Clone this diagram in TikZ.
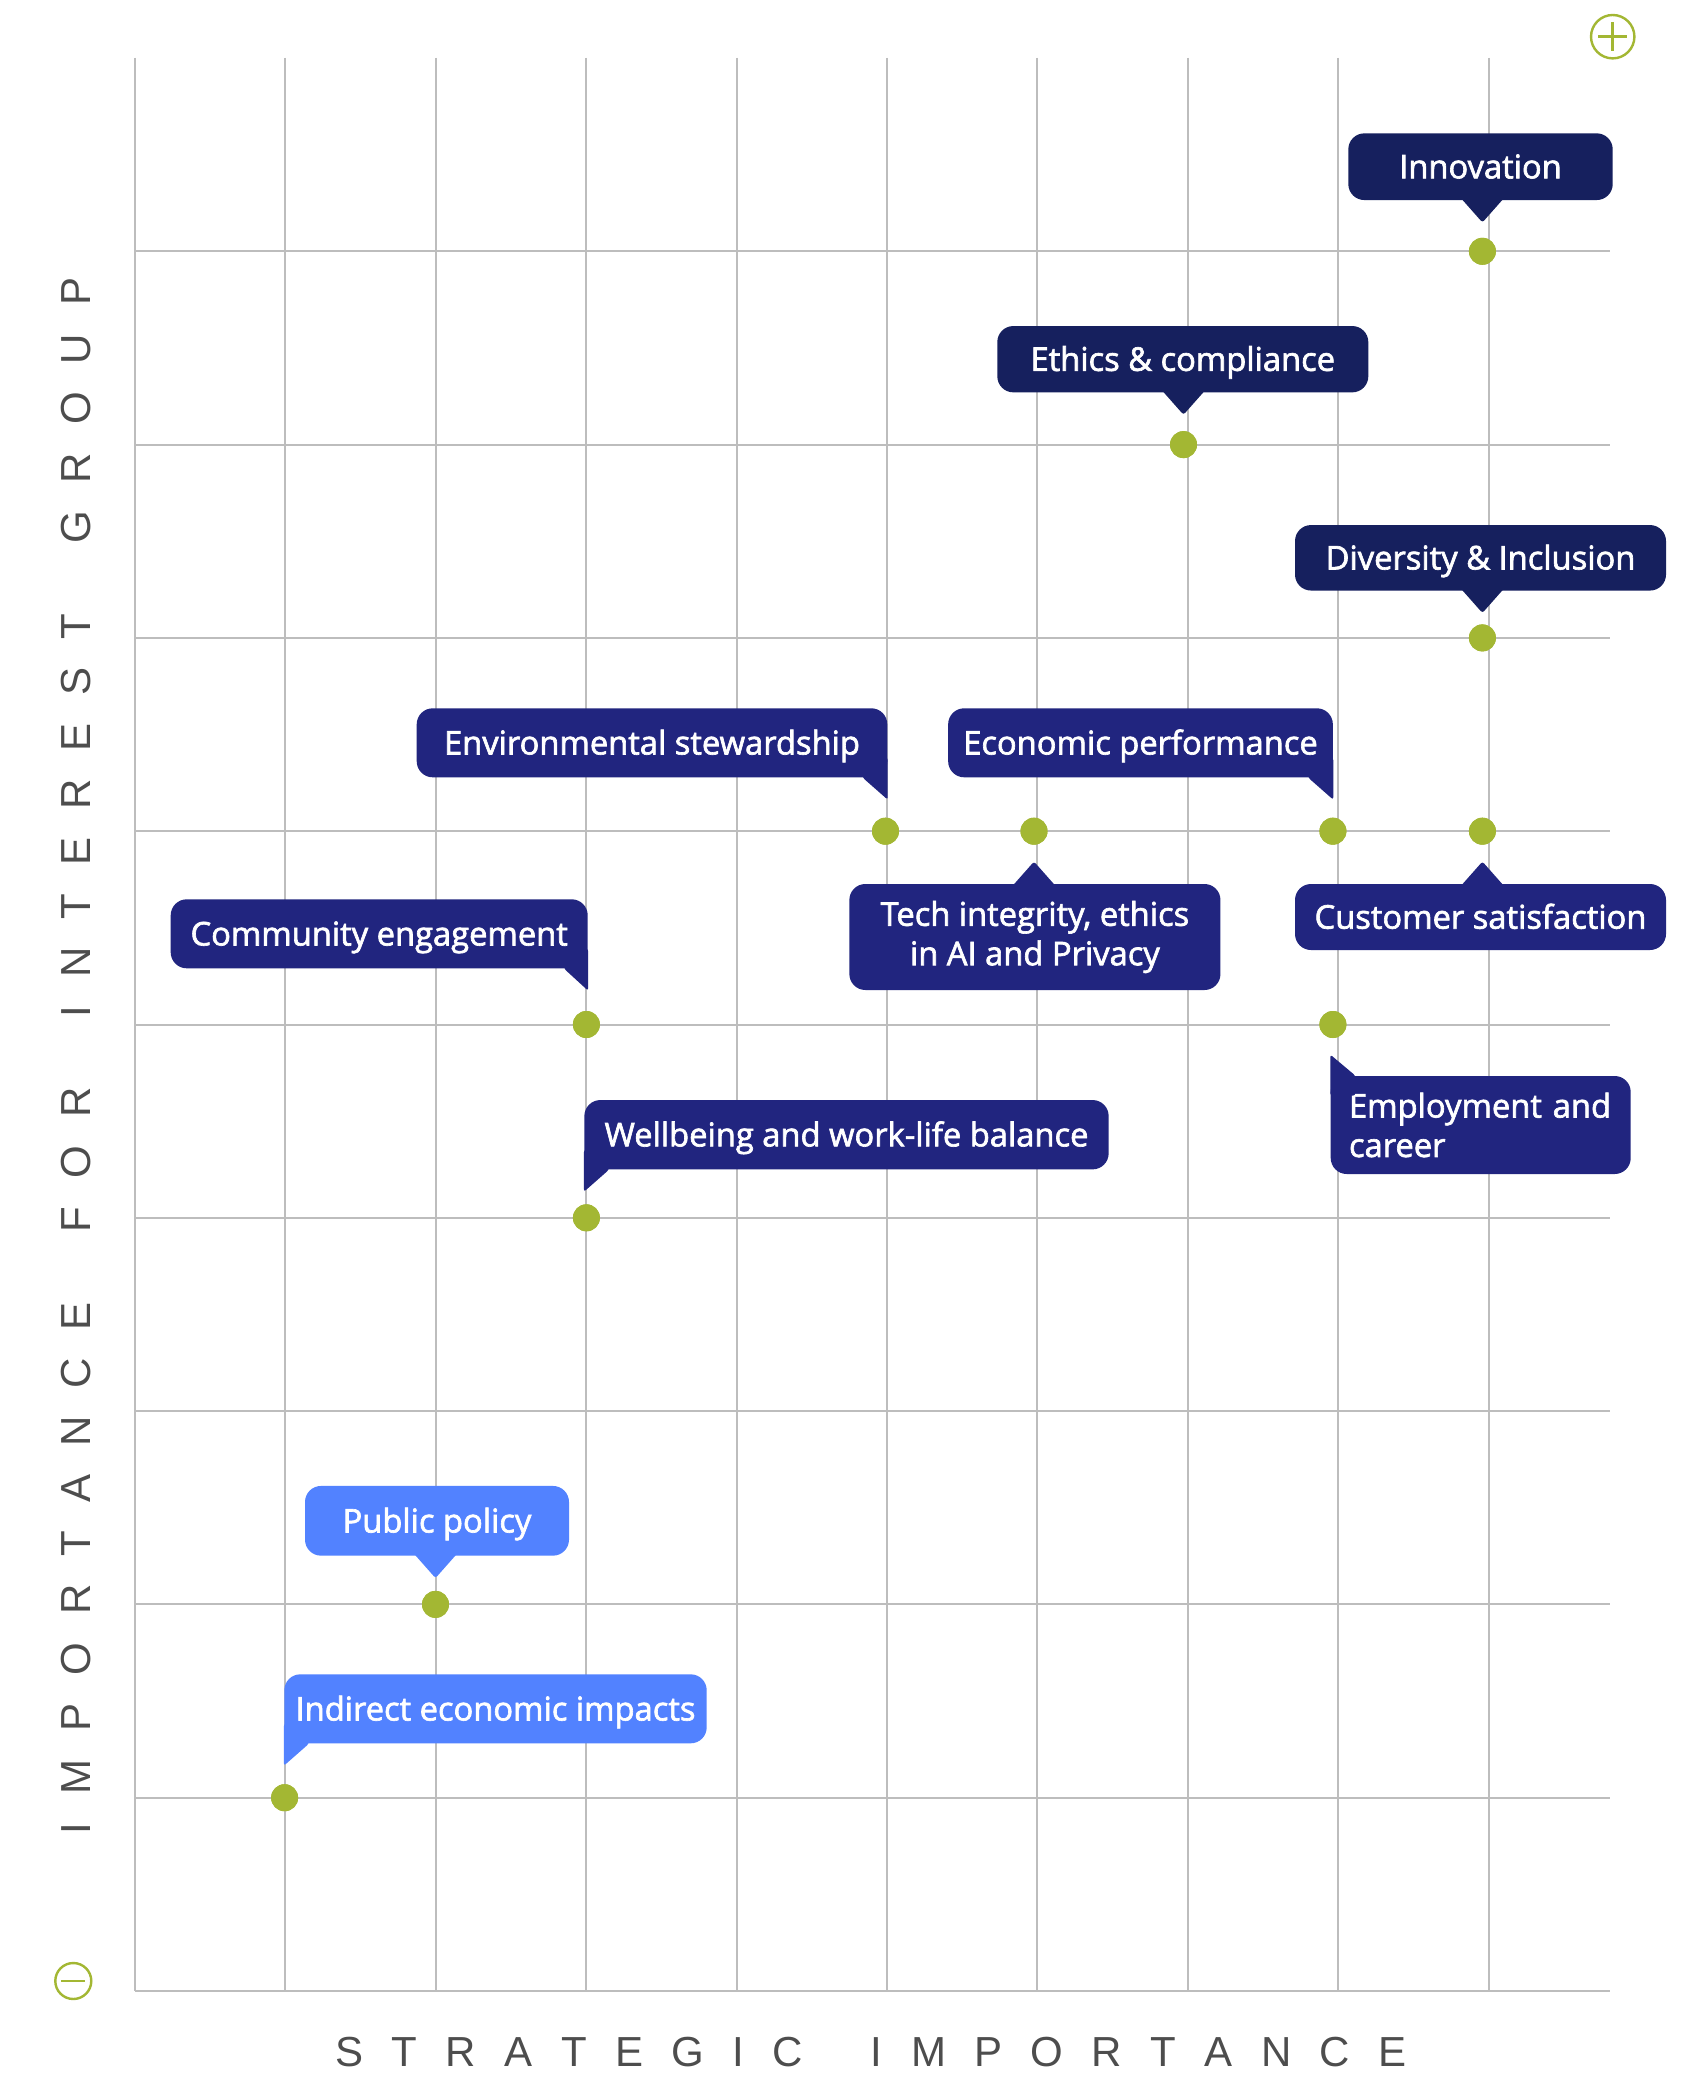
\documentclass[tikz,border=0pt]{standalone}
\usepackage{fontspec}
\setmainfont{Open Sans}
\newfontfamily\bubblefont{Open Sans}[FakeBold=2]
\newfontfamily\axisfont{Liberation Sans}
\usetikzlibrary{calc}
\definecolor{navyA}{HTML}{16205E}
\definecolor{navyB}{HTML}{21257F}
\definecolor{skyC}{HTML}{5282FF}
\definecolor{dotgreen}{HTML}{A3B733}
\definecolor{gridgray}{HTML}{BDBDBD}
\definecolor{axisgray}{HTML}{4D4D4D}
\newcommand\lgapH{\hspace{14.2pt}}
\newcommand\wgapH{\hspace{34pt}}
\newcommand\lgapV{\hspace{14.0pt}}
\newcommand\wgapV{\hspace{35pt}}
\begin{document}
\begin{tikzpicture}[x=0.5pt,y=-0.5pt,
  bubble/.style={rounded corners=8pt, inner sep=0pt, text=white,
    font=\bubblefont\fontsize{16.35pt}{19.7pt}\selectfont, align=center},
  oneline/.style={text height=11.67pt, text depth=0pt},
  tailtip/.style={rounded corners=1.2pt},
  gdot/.style={circle, fill=dotgreen, minimum size=13.5pt, inner sep=0pt},
  gridline/.style={gridgray, line width=1pt},
  axislabel/.style={text=axisgray, font=\axisfont\fontsize{21pt}{25pt}\selectfont,
    text height=15.04pt, text depth=0pt, inner sep=0pt},
  signring/.style={circle, draw=dotgreen, line width=1.2pt, inner sep=0pt},
  signbar/.style={dotgreen, line width=1.4pt}]
\useasboundingbox (0,0) rectangle (1681,2075);
\fill[white] (0,0) rectangle (1681,2075);

% grid
\foreach \i in {0,...,9}
  \draw[gridline] ({135+150.4*\i},58) -- ({135+150.4*\i},1991);
\foreach \j in {0,...,9}
  \draw[gridline] (135,{1991-193.3*\j}) -- (1610,{1991-193.3*\j});

% dots
\node[gdot] (innoD) at (1482.4,251.3) {};
\node[gdot] (ethD)  at (1183.5,444.6) {};
\node[gdot] (divD)  at (1482.4,637.9) {};
\node[gdot] (envD)  at (885.5,831.2) {};
\node[gdot] (techD) at (1034,831.2) {};
\node[gdot] (econD) at (1332.9,831.2) {};
\node[gdot] (custD) at (1482.4,831.2) {};
\node[gdot] (commD) at (586.4,1024.5) {};
\node[gdot] (empD)  at (1332.9,1024.5) {};
\node[gdot] (wellD) at (586.4,1217.8) {};
\node[gdot] (pubD)  at (435.5,1604.4) {};
\node[gdot] (indD)  at (284.6,1797.7) {};

% callouts
\node[bubble, oneline, fill=navyA, minimum width=132.2pt, minimum height=33.35pt] (innoB) at (1480.5,166.7) {Innovation};
\fill[navyA, tailtip] ($(innoD |- innoB.south)+(-23,-4)$) -- ($(innoD |- innoB.south)+(0,22)$) -- ($(innoD |- innoB.south)+(23,-4)$) -- cycle;

\node[bubble, oneline, fill=navyA, minimum width=185.5pt, minimum height=33.15pt] (ethB) at (1182.8,359.2) {Ethics \& compliance};
\fill[navyA, tailtip] ($(ethD |- ethB.south)+(-23,-4)$) -- ($(ethD |- ethB.south)+(0,22)$) -- ($(ethD |- ethB.south)+(23,-4)$) -- cycle;

\node[bubble, oneline, fill=navyA, minimum width=185.5pt, minimum height=32.75pt] (divB) at (1480.5,557.8) {Diversity \& Inclusion};
\fill[navyA, tailtip] ($(divD |- divB.south)+(-23,-4)$) -- ($(divD |- divB.south)+(0,22)$) -- ($(divD |- divB.south)+(23,-4)$) -- cycle;

\node[bubble, oneline, fill=navyB, minimum width=235.3pt, minimum height=34.5pt] (envB) at (652,742.8) {Environmental stewardship};
\fill[navyB, tailtip] ($(envB.south east)+(-25,-20)$) -- ($(envB.south east)+(0,-20)$) -- ($(envB.south east)+(0,22)$) -- ($(envB.south east)+(-25,0)$) -- cycle;

\node[bubble, oneline, fill=navyB, minimum width=192.35pt, minimum height=34.5pt] (econB) at (1140.5,742.8) {Economic performance};
\fill[navyB, tailtip] ($(econB.south east)+(-25,-20)$) -- ($(econB.south east)+(0,-20)$) -- ($(econB.south east)+(0,22)$) -- ($(econB.south east)+(-25,0)$) -- cycle;

\node[bubble, fill=navyB, minimum width=185.55pt, minimum height=53pt] (techB) at (1034.9,937) {Tech integrity, ethics\\in AI and Privacy};
\fill[navyB, tailtip] ($(techD |- techB.north)+(-23,4)$) -- ($(techD |- techB.north)+(0,-22)$) -- ($(techD |- techB.north)+(23,4)$) -- cycle;

\node[bubble, oneline, fill=navyB, minimum width=185.5pt, minimum height=33pt] (custB) at (1480.5,917) {Customer satisfaction};
\fill[navyB, tailtip] ($(custD |- custB.north)+(-23,4)$) -- ($(custD |- custB.north)+(0,-22)$) -- ($(custD |- custB.north)+(23,4)$) -- cycle;

\node[bubble, oneline, fill=navyB, minimum width=208.5pt, minimum height=34.5pt] (commB) at (379.2,933.8) {Community engagement};
\fill[navyB, tailtip] ($(commB.south east)+(-24,-20)$) -- ($(commB.south east)+(0,-20)$) -- ($(commB.south east)+(0,22)$) -- ($(commB.south east)+(-24,0)$) -- cycle;

\node[bubble, fill=navyB, align=left, text width=131.7pt, inner xsep=9.15pt, minimum width=150pt, minimum height=49pt] (empB) at (1480.7,1125) {Employment and\\career};
\fill[navyB, tailtip] ($(empB.north west)+(25,20)$) -- ($(empB.north west)+(0,20)$) -- ($(empB.north west)+(0,-21)$) -- ($(empB.north west)+(25,0)$) -- cycle;

\node[bubble, oneline, fill=navyB, minimum width=262.15pt, minimum height=34.65pt] (wellB) at (846.5,1134.7) {Wellbeing and work-life balance};
\fill[navyB, tailtip] ($(wellB.south west)+(25,-20)$) -- ($(wellB.south west)+(0,-20)$) -- ($(wellB.south west)+(0,22)$) -- ($(wellB.south west)+(25,0)$) -- cycle;

\node[bubble, oneline, fill=skyC, minimum width=132pt, minimum height=34.85pt] (pubB) at (437,1520.8) {Public policy};
\fill[skyC, tailtip] ($(pubD |- pubB.south)+(-23,-4)$) -- ($(pubD |- pubB.south)+(0,22)$) -- ($(pubD |- pubB.south)+(23,-4)$) -- cycle;

\node[bubble, oneline, fill=skyC, minimum width=211.2pt, minimum height=34.5pt] (indB) at (495.5,1708.8) {Indirect economic impacts};
\fill[skyC, tailtip] ($(indB.south west)+(25,-20)$) -- ($(indB.south west)+(0,-20)$) -- ($(indB.south west)+(0,22)$) -- ($(indB.south west)+(25,0)$) -- cycle;

% redraw dots on top
\foreach \d in {innoD,ethD,divD,envD,techD,econD,custD,commD,empD,wellD,pubD,indD}
  \fill[dotgreen] (\d) circle (13.5);

% plus / minus signs
\node[signring, minimum size=21.7pt] (plusS) at (1612.7,36.7) {};
\draw[signbar] ($(plusS.center)+(-14.3,0)$) -- ($(plusS.center)+(14.3,0)$);
\draw[signbar] ($(plusS.center)+(0,-14.3)$) -- ($(plusS.center)+(0,14.3)$);
\node[signring, minimum size=18pt] (minusS) at (73.3,1981) {};
\draw[signbar] ($(minusS.center)+(-12,0)$) -- ($(minusS.center)+(12,0)$);

% axis labels
\node[axislabel] (xlab) at (871,2051.5) {S\lgapH T\lgapH R\lgapH A\lgapH T\lgapH E\lgapH G\lgapH I\lgapH C\wgapH I\lgapH M\lgapH P\lgapH O\lgapH R\lgapH T\lgapH A\lgapH N\lgapH C\lgapH E};
\node[axislabel, rotate=90] (ylab) at (75,1056) {I\lgapV M\lgapV P\lgapV O\lgapV R\lgapV T\lgapV A\lgapV N\lgapV C\lgapV E\wgapV F\lgapV O\lgapV R\wgapV I\lgapV N\lgapV T\lgapV E\lgapV R\lgapV E\lgapV S\lgapV T\wgapV G\lgapV R\lgapV O\lgapV U\lgapV P};
\end{tikzpicture}
\end{document}
